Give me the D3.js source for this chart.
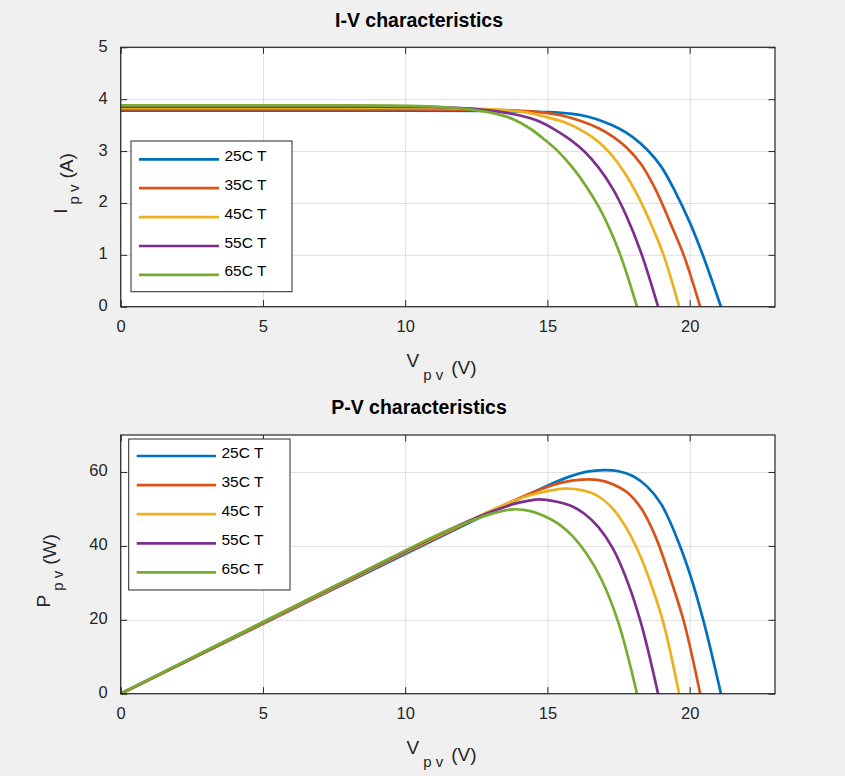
<!DOCTYPE html>
<html>
<head>
<meta charset="utf-8">
<script src="https://cdn.jsdelivr.net/npm/d3@7"></script>
<style>
html,body{margin:0;padding:0;background:#f0f0f0;}
svg{display:block;}
text{font-family:"Liberation Sans", Arial, Helvetica, sans-serif;}
</style>
</head>
<body>
<svg id="chart" width="845" height="776"></svg>
<script>
// ---------------- data ----------------
const seriesNames  = ["25C T", "35C T", "45C T", "55C T", "65C T"];
const seriesColors = ["#0072BD", "#D95319", "#EDB120", "#7E2F8E", "#77AC30"];

// 25 C
const v25 = [0, 5, 10, 13, 14, 15, 15.8, 16.4, 17.0, 17.5, 18.0, 18.5, 19.0, 19.5, 20.0, 20.5, 21.1];
const i25 = [3.78, 3.78, 3.78, 3.775, 3.765, 3.75, 3.72, 3.665, 3.56, 3.44, 3.27, 3.03, 2.70, 2.21, 1.63, 0.94, 0];
const p25 = [0, 18.9, 37.8, 49.1, 52.7, 56.3, 58.8, 60.1, 60.5, 60.2, 58.9, 56.1, 51.3, 43.1, 32.6, 19.3, 0];
// 35 C
const v35 = [0, 5, 10, 12, 13, 14, 14.8, 15.5, 16.2, 16.8, 17.3, 17.8, 18.3, 18.8, 19.3, 19.8, 20.37];
const i35 = [3.805, 3.805, 3.805, 3.80, 3.795, 3.78, 3.745, 3.685, 3.575, 3.44, 3.28, 3.06, 2.74, 2.26, 1.64, 0.98, 0];
const p35 = [0, 19.0, 38.1, 45.6, 49.3, 52.9, 55.4, 57.1, 57.9, 57.8, 56.7, 54.5, 50.1, 42.5, 31.7, 19.4, 0];
// 45 C
const v45 = [0, 5, 10, 11.5, 12.5, 13.5, 14.3, 15.0, 15.6, 16.2, 16.7, 17.2, 17.7, 18.2, 18.7, 19.1, 19.63];
const i45 = [3.83, 3.83, 3.83, 3.825, 3.815, 3.79, 3.74, 3.65, 3.555, 3.40, 3.22, 2.96, 2.59, 2.11, 1.52, 0.97, 0];
const p45 = [0, 19.2, 38.3, 44.0, 47.7, 51.2, 53.5, 54.8, 55.5, 55.1, 53.8, 50.9, 45.8, 38.4, 28.4, 18.5, 0];
// 55 C
const v55 = [0, 5, 9, 10.5, 11.5, 12.5, 13.3, 14.0, 14.7, 15.3, 15.8, 16.3, 16.8, 17.3, 17.8, 18.3, 18.89];
const i55 = [3.855, 3.855, 3.855, 3.85, 3.84, 3.81, 3.76, 3.69, 3.575, 3.40, 3.22, 2.99, 2.68, 2.27, 1.72, 1.03, 0];
const p55 = [0, 19.3, 34.7, 40.4, 44.2, 47.6, 50.0, 51.7, 52.6, 52.0, 50.9, 48.7, 45.0, 39.3, 30.6, 18.8, 0];
// 65 C
const v65 = [0, 5, 8, 9.5, 10.5, 11.5, 12.3, 13.0, 13.8, 14.4, 14.9, 15.4, 15.9, 16.4, 16.9, 17.5, 18.15];
const i65 = [3.88, 3.88, 3.88, 3.875, 3.865, 3.84, 3.80, 3.74, 3.615, 3.43, 3.22, 2.98, 2.67, 2.29, 1.83, 1.09, 0];
const p65 = [0, 19.4, 31.0, 36.8, 40.6, 44.2, 46.7, 48.6, 49.9, 49.4, 48.0, 45.9, 42.5, 37.6, 30.9, 19.1, 0];

const xTicks   = [0, 5, 10, 15, 20];
const ivYTicks = [0, 1, 2, 3, 4, 5];
const pvYTicks = [0, 20, 40, 60];
const xDomain   = [0, 23];
const ivYDomain = [0, 5];
const pvYDomain = [0, 70];

// ---------------- drawing ----------------
const voltages = [v25, v35, v45, v55, v65];
const currents = [i25, i35, i45, i55, i65];
const powers   = [p25, p35, p45, p55, p65];

const W = 845, H = 776;
const AX = "#262626";
const svg = d3.select("#chart");
svg.append("rect").attr("width", W).attr("height", H).attr("fill", "#f0f0f0");

const left = 120.7, right = 775;
const panels = [
  { title: "I-V characteristics", top: 47.3, bottom: 306.7, yDomain: ivYDomain, yTicks: ivYTicks,
    values: currents, main: "I", unit: "(A)", ylabBase: 66.7,
    leg: { x: 131, y: 141, w: 161, h: 150.7, firstY: 159.3, step: 28.9, x0: 139, x1: 219 } },
  { title: "P-V characteristics", top: 435, bottom: 693.7, yDomain: pvYDomain, yTicks: pvYTicks,
    values: powers, main: "P", unit: "(W)", ylabBase: 50,
    leg: { x: 128.7, y: 439, w: 161.3, h: 151, firstY: 456, step: 29.1, x0: 136.7, x1: 216 } }
];

panels.forEach(p => {
  const x = d3.scaleLinear().domain(xDomain).range([left, right]);
  const y = d3.scaleLinear().domain(p.yDomain).range([p.bottom, p.top]);
  const g = svg.append("g");

  // axes background
  g.append("rect").attr("x", left).attr("y", p.top)
    .attr("width", right - left).attr("height", p.bottom - p.top).attr("fill", "#ffffff");

  // grid
  const gx = g.append("g").attr("transform", `translate(0,${p.bottom})`)
    .call(d3.axisBottom(x).tickValues(xTicks).tickSize(-(p.bottom - p.top)).tickFormat(""));
  const gy = g.append("g").attr("transform", `translate(${left},0)`)
    .call(d3.axisLeft(y).tickValues(p.yTicks).tickSize(-(right - left)).tickFormat(""));
  [gx, gy].forEach(a => {
    a.select(".domain").remove();
    a.selectAll("line").attr("stroke", "#dfdfdf").attr("stroke-width", 1);
  });

  // curves
  const line = d3.line().x(d => x(d[0])).y(d => y(d[1])).curve(d3.curveCatmullRom.alpha(0.5));
  voltages.forEach((vs, k) => {
    g.append("path").datum(d3.zip(vs, p.values[k]))
      .attr("d", line).attr("fill", "none")
      .attr("stroke", seriesColors[k]).attr("stroke-width", 2.7)
      .attr("stroke-linejoin", "round");
  });

  // axes ticks (inward, on all four sides)
  const fs = 16.5;
  const fmt = d => String(d);
  const ab = g.append("g").attr("transform", `translate(0,${p.bottom})`)
    .call(d3.axisBottom(x).tickValues(xTicks).tickFormat(fmt).tickSizeInner(-6.5).tickSizeOuter(0).tickPadding(13.6));
  const at = g.append("g").attr("transform", `translate(0,${p.top})`)
    .call(d3.axisTop(x).tickValues(xTicks).tickSizeInner(-6.5).tickSizeOuter(0).tickFormat(""));
  const al = g.append("g").attr("transform", `translate(${left},0)`)
    .call(d3.axisLeft(y).tickValues(p.yTicks).tickFormat(fmt).tickSizeInner(-6.5).tickSizeOuter(0).tickPadding(13));
  const ar = g.append("g").attr("transform", `translate(${right},0)`)
    .call(d3.axisRight(y).tickValues(p.yTicks).tickSizeInner(-6.5).tickSizeOuter(0).tickFormat(""));
  [ab, at, al, ar].forEach(a => {
    a.select(".domain").remove();
    a.selectAll("line").attr("stroke", AX).attr("stroke-width", 1);
    a.selectAll("text").attr("fill", AX).attr("font-size", fs)
      .attr("font-family", "'Liberation Sans', Arial, sans-serif");
  });
  al.selectAll("text").attr("dy", "0.24em");

  // box
  g.append("rect").attr("x", left).attr("y", p.top)
    .attr("width", right - left).attr("height", p.bottom - p.top)
    .attr("fill", "none").attr("stroke", AX).attr("stroke-width", 1.2);

  // title
  g.append("text").attr("x", 419).attr("y", p.top - 20.6)
    .attr("text-anchor", "middle").attr("font-weight", "bold").attr("font-size", 19.5)
    .attr("fill", "#000").text(p.title);

  // x label
  const xl = g.append("text").attr("x", 441.5).attr("y", p.bottom + 60)
    .attr("text-anchor", "middle").attr("fill", AX).attr("font-size", 19);
  xl.append("tspan").text("V");
  xl.append("tspan").attr("dx", 4).attr("dy", 13).attr("font-size", 15).text("p v");
  xl.append("tspan").attr("dx", 8).attr("dy", -6).text("(V)");

  // y label (rotated)
  const cy = (p.top + p.bottom) / 2 + 6.5;
  const yl = g.append("text")
    .attr("transform", `translate(${p.ylabBase},${cy}) rotate(-90)`)
    .attr("text-anchor", "middle").attr("fill", AX).attr("font-size", 19);
  yl.append("tspan").text(p.main);
  yl.append("tspan").attr("dx", 4).attr("dy", 12.5).attr("font-size", 15).text("p v");
  yl.append("tspan").attr("dx", 6).attr("dy", -6.5).text(p.unit);

  // legend
  const L = p.leg;
  g.append("rect").attr("x", L.x).attr("y", L.y).attr("width", L.w).attr("height", L.h)
    .attr("fill", "#ffffff").attr("stroke", AX).attr("stroke-width", 1);
  seriesNames.forEach((name, k) => {
    const ly = L.firstY + k * L.step;
    g.append("line").attr("x1", L.x0).attr("x2", L.x1).attr("y1", ly).attr("y2", ly)
      .attr("stroke", seriesColors[k]).attr("stroke-width", 2.7);
    g.append("text").attr("x", L.x1 + 5.5).attr("y", ly + 1.5)
      .attr("font-size", 15.5).attr("fill", "#000").text(name);
  });
});
</script>
</body>
</html>
